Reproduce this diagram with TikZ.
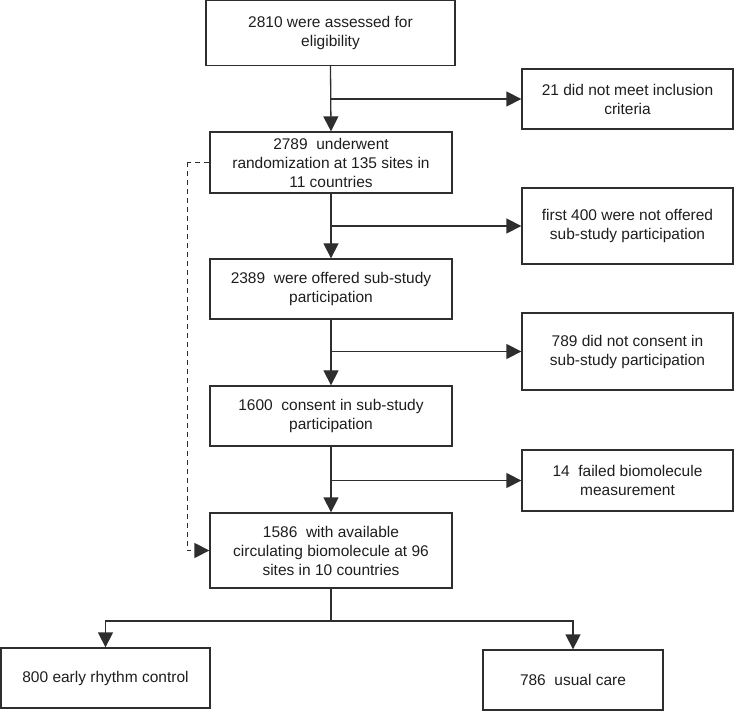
\documentclass[tikz,border=0pt]{standalone}
\usepackage{fontspec}
\setmainfont{Liberation Sans}
\usetikzlibrary{arrows.meta}
\definecolor{ln}{HTML}{2E2E2E}
\definecolor{tx}{HTML}{1E1E1E}
\begin{document}
\begin{tikzpicture}[x=1pt,y=-1pt,
  box/.style={draw=ln,line width=1.3pt,rectangle,align=center,inner sep=0pt,
    text=tx,font=\fontsize{15.5}{19}\selectfont},
  conn/.style={draw=ln,line width=1.3pt},
  arr/.style={conn,-{Triangle[length=15pt,width=15pt]}},
  dsh/.style={conn,dash pattern=on 5pt off 4pt}]
\useasboundingbox (0,0) rectangle (734,711);
\node[box,minimum width=249pt,minimum height=65pt] (b1) at (330.5,33) {2810 were assessed for\\eligibility};
\node[box,minimum width=242pt,minimum height=61pt] (b2) at (331,162.5) {2789\ \ underwent\\randomization at 135 sites in\\11 countries};
\node[box,minimum width=242pt,minimum height=60pt] (b3) at (331,289) {2389\ \ were offered sub-study\\participation};
\node[box,minimum width=242pt,minimum height=60pt] (b4) at (331,416) {1600\ \ consent in sub-study\\participation};
\node[box,minimum width=242pt,minimum height=75pt] (b5) at (331,550.5) {1586\ \ with available\\circulating biomolecule at 96\\sites in 10 countries};
\node[box,minimum width=211pt,minimum height=60pt] (r1) at (627.5,99) {21 did not meet inclusion\\criteria};
\node[box,minimum width=211pt,minimum height=76pt] (r2) at (627.5,226) {first 400 were not offered\\sub-study participation};
\node[box,minimum width=211pt,minimum height=77pt] (r3) at (627.5,351.5) {789 did not consent in\\sub-study participation};
\node[box,minimum width=211pt,minimum height=61pt] (r4) at (627.5,480.5) {14\ \ failed biomolecule\\measurement};
\node[box,minimum width=209pt,minimum height=60pt] (lb) at (105.5,678) {800 early rhythm control};
\node[box,minimum width=180pt,minimum height=60pt] (rb) at (573,680) {786\ \ usual care};
\coordinate (j) at (331,621);
\draw[arr] (b1.south) -- (b2.north);
\draw[arr] (b2.south) -- (b3.north);
\draw[arr] (b3.south) -- (b4.north);
\draw[arr] (b4.south) -- (b5.north);
\draw[arr] (b1.south |- r1.west) -- (r1.west);
\draw[arr] (b2.south |- r2.west) -- (r2.west);
\draw[arr] (b3.south |- r3.west) -- (r3.west);
\draw[arr] (b4.south |- r4.west) -- (r4.west);
\draw[conn] (b5.south) -- (j);
\draw[arr] (j) -| (lb.north);
\draw[arr] (j) -| (rb.north);
\draw[dsh] (b2.west) -- ++(-22,0) coordinate (d1);
\draw[dsh] (d1) |- (b5.west);
\draw[arr] ([xshift=-2pt]b5.west) -- (b5.west);
\end{tikzpicture}
\end{document}
